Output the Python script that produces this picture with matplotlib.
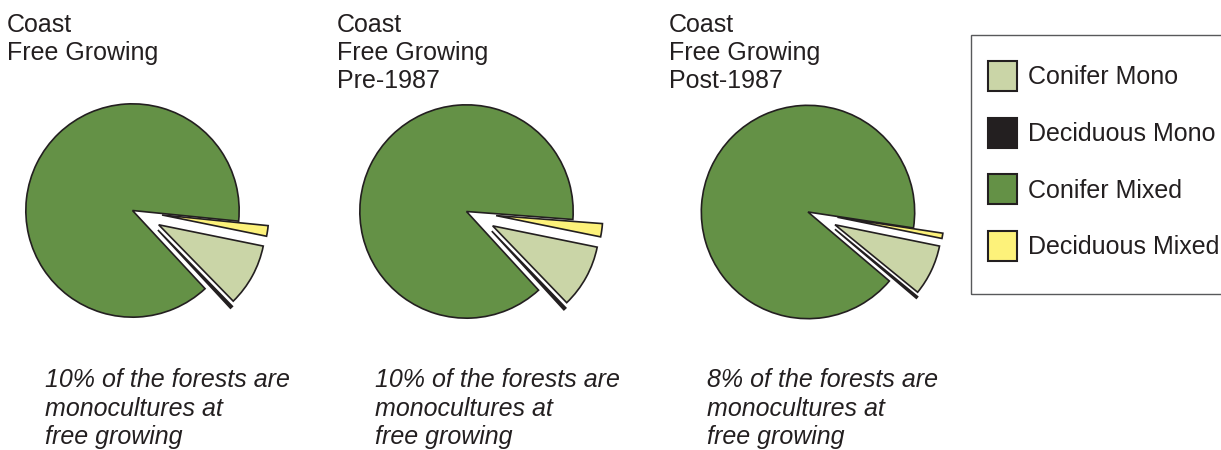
"""Coast free-growing stand composition pies."""
import matplotlib
matplotlib.use("Agg")
import matplotlib.pyplot as plt
import numpy as np
from matplotlib.patches import Patch, Rectangle

W, H = 1221, 450
DARK = "#231f20"
FONT = "Liberation Sans"
FS = 18

labels = ["Conifer Mono", "Deciduous Mono", "Conifer Mixed", "Deciduous Mixed"]
colors = ["#cad5a7", DARK, "#649146", "#fdf27a"]

coast_all = [9.5, 0.4, 88.5, 1.6]
coast_pre = [9.6, 0.4, 88.0, 2.0]
coast_post = [7.7, 0.3, 91.2, 0.8]

titles = [
    ["Coast", "Free Growing"],
    ["Coast", "Free Growing", "Pre-1987"],
    ["Coast", "Free Growing", "Post-1987"],
]
notes = [
    ["10% of the forests are", "monocultures at", "free growing"],
    ["10% of the forests are", "monocultures at", "free growing"],
    ["8% of the forests are", "monocultures at", "free growing"],
]

# layout in pixels
centers = [(132.5, 210.5), (466.5, 211.5), (808, 212)]
title_x = [7, 337, 669]
note_x = [45, 375, 707]
PITCH = 28.4
EXPLODE = [0.28, 0.3, 0, 0.28]


def fx(x):
    return x / W


def fy(y):
    return 1 - y / H


def put_lines(lines, x, y0, **kw):
    for i, line in enumerate(lines):
        fig.text(fx(x), fy(y0 + i * PITCH), line, fontsize=FS, family=FONT,
                 color=DARK, va="baseline", ha="left", **kw)


fig = plt.figure(figsize=(W / 100, H / 100), dpi=100)

for data, (cx, cy), tx, nx, title, note in zip(
        [coast_all, coast_pre, coast_post], centers, title_x, note_x, titles, notes):
    ax = fig.add_axes([fx(cx - 160), fy(cy + 160), 320 / W, 320 / H])
    wedges, _ = ax.pie(data, colors=colors, explode=EXPLODE, radius=1.0,
                       startangle=-11.5, counterclock=False,
                       wedgeprops=dict(edgecolor=DARK, linewidth=1.2))
    # the thin black sliver is pulled out halfway towards its neighbour's direction,
    # so it floats in the gap between the conifer slices
    mono, sliver = wedges[0], wedges[1]
    ang = np.deg2rad((mono.theta1 + mono.theta2 + sliver.theta1 + sliver.theta2) / 4)
    sliver.set_center((EXPLODE[1] * np.cos(ang), EXPLODE[1] * np.sin(ang)))
    ax.set_xlim(-1.5, 1.5)
    ax.set_ylim(-1.5, 1.5)
    ax.set_aspect("equal")
    ax.axis("off")

    put_lines(title, tx, 31.7)
    put_lines(note, nx, 387.3, style="italic")

# legend box
fig.patches.append(Rectangle((fx(971), fy(294)), fx(300), (294 - 35) / H,
                             transform=fig.transFigure, facecolor="none",
                             edgecolor="#58595b", linewidth=1.0))
handles = [Patch(facecolor=c, edgecolor=DARK, linewidth=1.5) for c in colors]
fig.legend(handles, labels, loc="upper left", bbox_to_anchor=(fx(988), fy(61.2)),
           frameon=False, borderpad=0, borderaxespad=0,
           prop=dict(family=FONT, size=FS),
           handlelength=1.16, handleheight=1.47, handletextpad=0.42,
           labelspacing=1.06, labelcolor=DARK)

fig.savefig("out.png", dpi=100)
